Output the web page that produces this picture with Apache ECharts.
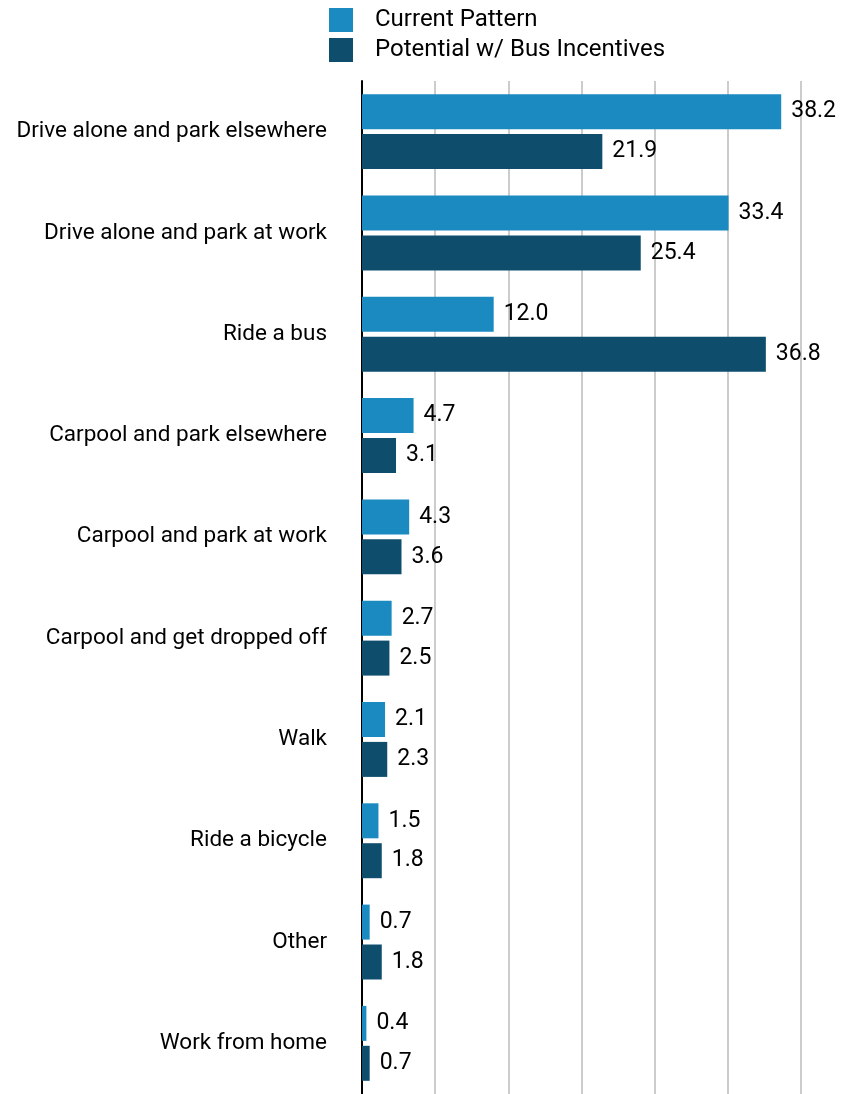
<!DOCTYPE html>
<html>
<head>
<meta charset="utf-8">
<script src="https://cdn.jsdelivr.net/npm/echarts@6/dist/echarts.min.js"></script>
<style>
  html, body { margin: 0; padding: 0; background: #fff; }
  #chart { width: 851px; height: 1094px; }
</style>
</head>
<body>
<div id="chart"></div>
<script>
// Commute modes, top to bottom
const categories = [
  'Drive alone and park elsewhere',
  'Drive alone and park at work',
  'Ride a bus',
  'Carpool and park elsewhere',
  'Carpool and park at work',
  'Carpool and get dropped off',
  'Walk',
  'Ride a bicycle',
  'Other',
  'Work from home'
];
const currentPattern = [38.2, 33.4, 12.0, 4.7, 4.3, 2.7, 2.1, 1.5, 0.7, 0.4];
const potentialBus = [21.9, 25.4, 36.8, 3.1, 3.6, 2.5, 2.3, 1.8, 1.8, 0.7];
const seriesNames = ['Current Pattern', 'Potential w/ Bus Incentives'];

const FONT = 'Roboto';
const chart = echarts.init(document.getElementById('chart'));

const valueLabel = {
  show: true,
  position: 'right',
  distance: 10,
  color: '#000',
  fontFamily: FONT,
  fontSize: 23,
  padding: [3, 0, 0, 0],
  formatter: p => p.value.toFixed(1)
};

chart.setOption({
  animation: false,
  backgroundColor: '#fff',
  legend: {
    orient: 'vertical',
    left: 329,
    top: 8,
    padding: 0,
    itemWidth: 24,
    itemHeight: 24,
    itemGap: 6,
    icon: 'rect',
    textStyle: { fontFamily: FONT, fontSize: 24, color: '#000', padding: [4, 0, 0, 17] },
    data: seriesNames
  },
  grid: { left: 362, top: 81, right: 0, height: 1017, containLabel: false },
  xAxis: {
    type: 'value',
    min: 0,
    max: 44.56,
    interval: 20 / 3,
    axisLine: { show: false },
    axisTick: { show: false },
    axisLabel: { show: false },
    splitLine: { showMaxLine: false, lineStyle: { color: '#cccccc', width: 2 } }
  },
  yAxis: {
    type: 'category',
    inverse: true,
    data: categories,
    axisLine: { lineStyle: { color: '#000', width: 2 } },
    axisTick: { show: false },
    axisLabel: { margin: 35, padding: [4, 0, 0, 0], fontFamily: FONT, fontSize: 22.5, color: '#000' }
  },
  series: [
    {
      name: seriesNames[0],
      type: 'bar',
      data: currentPattern,
      barWidth: 35,
      barGap: '14%',
      itemStyle: { color: '#1b8ac0' },
      label: valueLabel
    },
    {
      name: seriesNames[1],
      type: 'bar',
      data: potentialBus,
      barWidth: 35,
      barGap: '14%',
      itemStyle: { color: '#0e4d6c' },
      label: valueLabel
    }
  ]
});
</script>
</body>
</html>
